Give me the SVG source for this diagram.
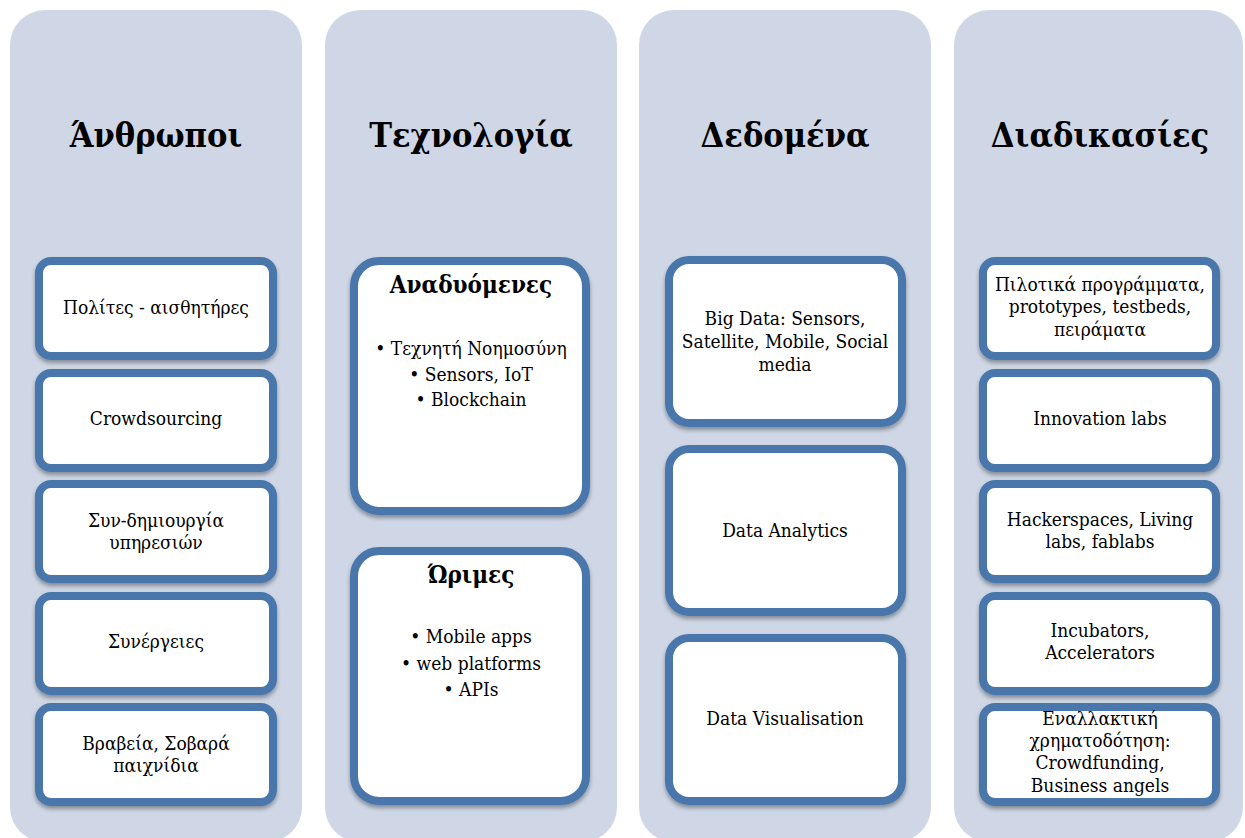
<svg xmlns="http://www.w3.org/2000/svg" width="1245" height="838" viewBox="0 0 1245 838">
<defs>
<filter id="sh" x="-10%" y="-10%" width="120%" height="130%">
<feDropShadow dx="0" dy="3" stdDeviation="2" flood-color="#000" flood-opacity="0.35"/>
</filter>
<style>
.col{fill:#cfd7e6;}
.box{fill:#ffffff;stroke:#4a76ab;stroke-width:8;filter:url(#sh);}
.t{font-family:"DejaVu Serif Condensed","DejaVu Serif","Liberation Serif",serif;font-stretch:condensed;font-size:19px;fill:#000;text-anchor:middle;}
.h{font-family:"DejaVu Serif Condensed","DejaVu Serif","Liberation Serif",serif;font-stretch:condensed;font-size:34px;font-weight:bold;fill:#000;text-anchor:middle;}
.sh{font-family:"DejaVu Serif Condensed","DejaVu Serif","Liberation Serif",serif;font-stretch:condensed;font-size:24px;font-weight:bold;fill:#000;text-anchor:middle;}
</style>
</defs>
<rect width="1245" height="838" fill="#ffffff"/>

<g id="col-people">
<rect class="col" x="10" y="10" width="292" height="832" rx="35"/>
<text class="h" x="156" y="147">Άνθρωποι</text>
</g>
<g id="col-tech">
<rect class="col" x="325" y="10" width="292" height="832" rx="35"/>
<text class="h" x="471" y="147">Τεχνολογία</text>
</g>
<g id="col-data">
<rect class="col" x="639" y="10" width="292" height="832" rx="35"/>
<text class="h" x="785" y="147">Δεδομένα</text>
</g>
<g id="col-proc">
<rect class="col" x="954" y="10" width="289" height="832" rx="35"/>
<text class="h" x="1100" y="147">Διαδικασίες</text>
</g>

<g id="p1"><rect class="box" x="39" y="261" width="234" height="95" rx="12"/>
<text class="t" x="156" y="314">Πολίτες - αισθητήρες</text></g>
<g id="p2"><rect class="box" x="39" y="373" width="234" height="95" rx="12"/>
<text class="t" x="156" y="425">Crowdsourcing</text></g>
<g id="p3"><rect class="box" x="39" y="484" width="234" height="95" rx="12"/>
<text class="t" x="156" y="527">Συν-δημιουργία</text>
<text class="t" x="156" y="549">υπηρεσιών</text></g>
<g id="p4"><rect class="box" x="39" y="596" width="234" height="95" rx="12"/>
<text class="t" x="156" y="648">Συνέργειες</text></g>
<g id="p5"><rect class="box" x="39" y="707" width="234" height="95" rx="12"/>
<text class="t" x="156" y="750">Βραβεία, Σοβαρά</text>
<text class="t" x="156" y="772">παιχνίδια</text></g>

<g id="t1"><rect class="box" x="354" y="261" width="232" height="250" rx="25"/>
<text class="sh" x="471" y="293">Αναδυόμενες</text>
<text class="t" x="471" y="355">• Τεχνητή Νοημοσύνη</text>
<text class="t" x="471" y="381">• Sensors, IoT</text>
<text class="t" x="471" y="406">• Blockchain</text></g>
<g id="t2"><rect class="box" x="354" y="551" width="232" height="250" rx="25"/>
<text class="sh" x="471" y="583">Ώριμες</text>
<text class="t" x="471" y="643">• Mobile apps</text>
<text class="t" x="471" y="670">• web platforms</text>
<text class="t" x="471" y="696">•  APIs</text></g>

<g id="d1"><rect class="box" x="669" y="260" width="233" height="163" rx="20"/>
<text class="t" x="785" y="325">Big Data: Sensors,</text>
<text class="t" x="785" y="348">Satellite, Mobile, Social</text>
<text class="t" x="785" y="371">media</text></g>
<g id="d2"><rect class="box" x="669" y="449" width="233" height="163" rx="20"/>
<text class="t" x="785" y="537">Data Analytics</text></g>
<g id="d3"><rect class="box" x="669" y="638" width="233" height="163" rx="20"/>
<text class="t" x="785" y="725">Data Visualisation</text></g>

<g id="r1"><rect class="box" x="983" y="261" width="233" height="95" rx="12"/>
<text class="t" x="1100" y="291">Πιλοτικά προγράμματα,</text>
<text class="t" x="1100" y="313">prototypes, testbeds,</text>
<text class="t" x="1100" y="336">πειράματα</text></g>
<g id="r2"><rect class="box" x="983" y="373" width="233" height="95" rx="12"/>
<text class="t" x="1100" y="425">Innovation labs</text></g>
<g id="r3"><rect class="box" x="983" y="484" width="233" height="95" rx="12"/>
<text class="t" x="1100" y="526">Hackerspaces, Living</text>
<text class="t" x="1100" y="548">labs, fablabs</text></g>
<g id="r4"><rect class="box" x="983" y="596" width="233" height="95" rx="12"/>
<text class="t" x="1100" y="637">Incubators,</text>
<text class="t" x="1100" y="659">Accelerators</text></g>
<g id="r5"><rect class="box" x="983" y="707" width="233" height="95" rx="12"/>
<text class="t" x="1100" y="725">Εναλλακτική</text>
<text class="t" x="1100" y="747">χρηματοδότηση:</text>
<text class="t" x="1100" y="769">Crowdfunding,</text>
<text class="t" x="1100" y="792">Business angels</text></g>

<g id="connectors"></g>
</svg>
